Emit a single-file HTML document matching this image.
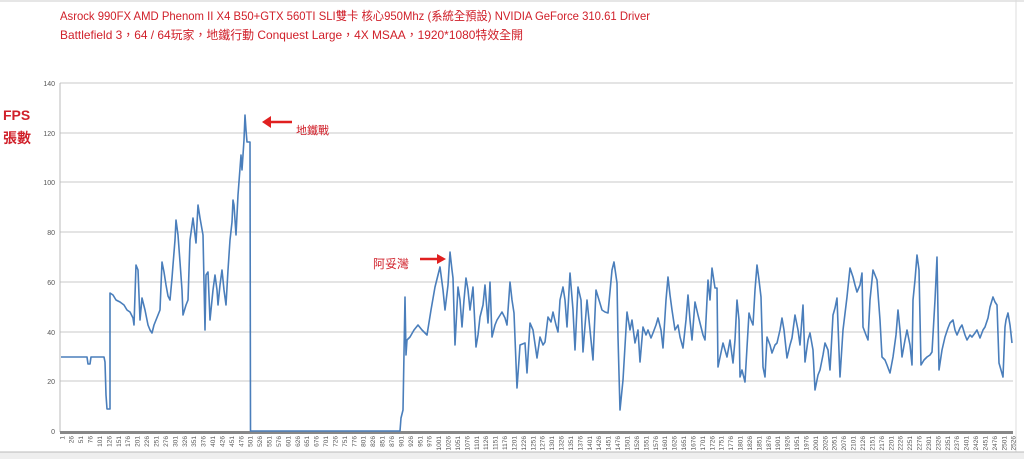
<!DOCTYPE html>
<html><head><meta charset="utf-8"><style>
html,body{margin:0;padding:0;background:#fff;width:1024px;height:459px;overflow:hidden}
</style></head><body>
<svg width="1024" height="459" xmlns="http://www.w3.org/2000/svg" font-family="Liberation Sans, 'Noto Sans CJK TC', sans-serif">
<rect width="1024" height="459" fill="#fff"/>
<line x1="0" y1="1" x2="1024" y2="1" stroke="#ccc"/>
<text x="60" y="20" font-size="12" fill="#d0202a" textLength="590" lengthAdjust="spacingAndGlyphs">Asrock 990FX AMD Phenom II X4 B50+GTX 560TI  SLI雙卡 核心950Mhz (系統全預設) NVIDIA GeForce 310.61 Driver</text>
<text x="60" y="39" font-size="12" fill="#d0202a" textLength="463" lengthAdjust="spacingAndGlyphs">Battlefield 3，64 / 64玩家，地鐵行動 Conquest Large，4X MSAA，1920*1080特效全開</text>
<text x="3" y="120" font-size="14" font-weight="bold" fill="#d0202a">FPS</text>
<text x="3" y="143" font-size="14" font-weight="bold" fill="#d0202a">張數</text>
<g stroke="#c8c8c8" stroke-width="1">
<line x1="60" y1="83" x2="1013" y2="83"/><line x1="60" y1="133" x2="1013" y2="133"/>
<line x1="60" y1="182" x2="1013" y2="182"/><line x1="60" y1="232" x2="1013" y2="232"/>
<line x1="60" y1="282" x2="1013" y2="282"/><line x1="60" y1="332" x2="1013" y2="332"/>
<line x1="60" y1="381" x2="1013" y2="381"/>
</g>
<line x1="60" y1="83" x2="60" y2="432" stroke="#bbb"/>
<line x1="1016" y1="0" x2="1016" y2="452" stroke="#ddd"/>
<rect x="60" y="431" width="953" height="3" fill="#888"/>
<g font-size="7" fill="#555" text-anchor="end">
<text x="55" y="86">140</text><text x="55" y="136">120</text><text x="55" y="185">100</text>
<text x="55" y="235">80</text><text x="55" y="285">60</text><text x="55" y="335">40</text>
<text x="55" y="384">20</text><text x="55" y="434">0</text>
</g>
<g id="xl" font-size="6.5" fill="#555"></g>
<polyline fill="none" stroke="#4a7ebb" stroke-width="1.6" stroke-linejoin="round" points="
61,357 87,357 88,364 90,364 91,357 104,357 105,362 106,395 107,409 110,409 110,293 113,295 116,300 120,302 124,305 127,310 130,312 133,318 134,325 136,265 138,270 140,320 142,298 145,310 148,325 150,330 152,333 154,325 158,315 160,310 162,262 164,272 166,285 168,296 170,300 172,278 173,265 175,240 176,220 178,235 180,262 182,290 183,315 186,305 188,300 190,240 193,218 196,243 198,205 200,218 203,235 205,330 206,275 208,272 210,320 213,290 215,275 217,290 218,305 220,285 222,270 224,290 226,305 228,270 230,240 232,222 233,200 234,205 236,235 238,195 241,155 242,170 244,140 245,115 246,130 247,142 250,142 250.5,431 
400,431 401,418 403,410 405,297 406,355 407,340 410,337 414,330 418,325 422,330 427,335 431,310 435,287 438,275 440,267 443,290 445,310 448,285 450,252 452,270 453,278 455,345 458,287 460,300 462,327 464,300 466,278 468,290 470,310 473,287 476,347 478,335 480,317 483,305 485,285 488,323 490,282 492,337 495,325 497,320 502,312 505,318 507,325 510,282 512,300 514,313 517,388 519,360 520,345 525,343 527,373 530,323 533,330 537,358 540,337 543,345 545,342 548,317 551,322 553,312 556,325 558,332 560,300 563,287 565,300 567,327 570,273 573,310 575,350 578,287 581,300 583,352 587,300 590,330 593,360 596,290 599,300 602,310 605,312 608,313 612,270 614,262 617,283 618,337 620,410 623,380 627,312 630,330 632,320 635,343 638,330 640,362 643,327 646,335 648,330 651,338 653,333 656,325 658,318 661,330 663,348 666,300 668,277 670,295 672,310 675,330 678,325 680,337 683,348 686,320 688,295 690,320 692,340 695,302 698,315 700,323 703,335 705,340 708,280 710,300 712,268 715,288 717,288 718,367 723,343 725,350 727,357 730,340 733,363 735,340 737,300 739,320 740,377 742,370 745,382 749,313 751,320 753,325 755,290 757,265 759,280 761,297 763,367 765,377 767,337 770,345 772,353 775,345 777,343 780,330 782,318 784,330 787,358 790,345 792,338 795,315 798,330 800,345 803,305 805,362 808,340 810,333 813,350 815,390 818,375 820,370 823,355 825,343 828,350 830,370 833,315 835,308 837,298 840,377 843,330 847,297 850,268 853,277 855,285 857,292 860,285 862,273 863,327 866,335 868,340 870,300 873,270 875,275 877,280 880,320 882,357 885,360 887,365 890,373 893,357 896,335 898,310 900,330 902,357 905,340 907,330 910,345 912,365 913,300 915,280 917,255 919,270 921,365 924,360 927,357 930,355 932,352 935,300 937,257 939,370 942,350 945,337 948,328 950,323 953,320 955,330 957,335 960,328 962,325 965,335 967,340 970,335 972,337 975,333 977,330 980,338 983,330 985,327 988,318 990,307 993,297 995,302 997,305 999,363 1001,370 1003,377 1005,327 1006,320 1008,313 1010,325 1012,343"/>
<g stroke="#e02020" stroke-width="2.5" fill="#e02020">
<line x1="268" y1="122" x2="292" y2="122"/>
<polygon points="262,122 271,116 271,128" stroke="none"/>
<line x1="420" y1="259" x2="440" y2="259"/>
<polygon points="446,259 437,254 437,264" stroke="none"/>
</g>
<text x="296" y="134" font-size="11" fill="#d0202a">地鐵戰</text>
<text x="373" y="268" font-size="12" fill="#d0202a">阿妥灣</text>
<rect x="0" y="452" width="1024" height="7" fill="#eee"/>
<line x1="0" y1="452" x2="1024" y2="452" stroke="#bbb"/>
</svg>
<script>
var g=document.getElementById('xl'),s='';
for(var k=0;k<=101;k++){var n=1+25*k,x=62+k*9.42;
s+='<text transform="translate('+(x+2.3).toFixed(1)+',436) rotate(-90)" text-anchor="end">'+n+'</text>';}
g.innerHTML=s;
</script>
</body></html>
